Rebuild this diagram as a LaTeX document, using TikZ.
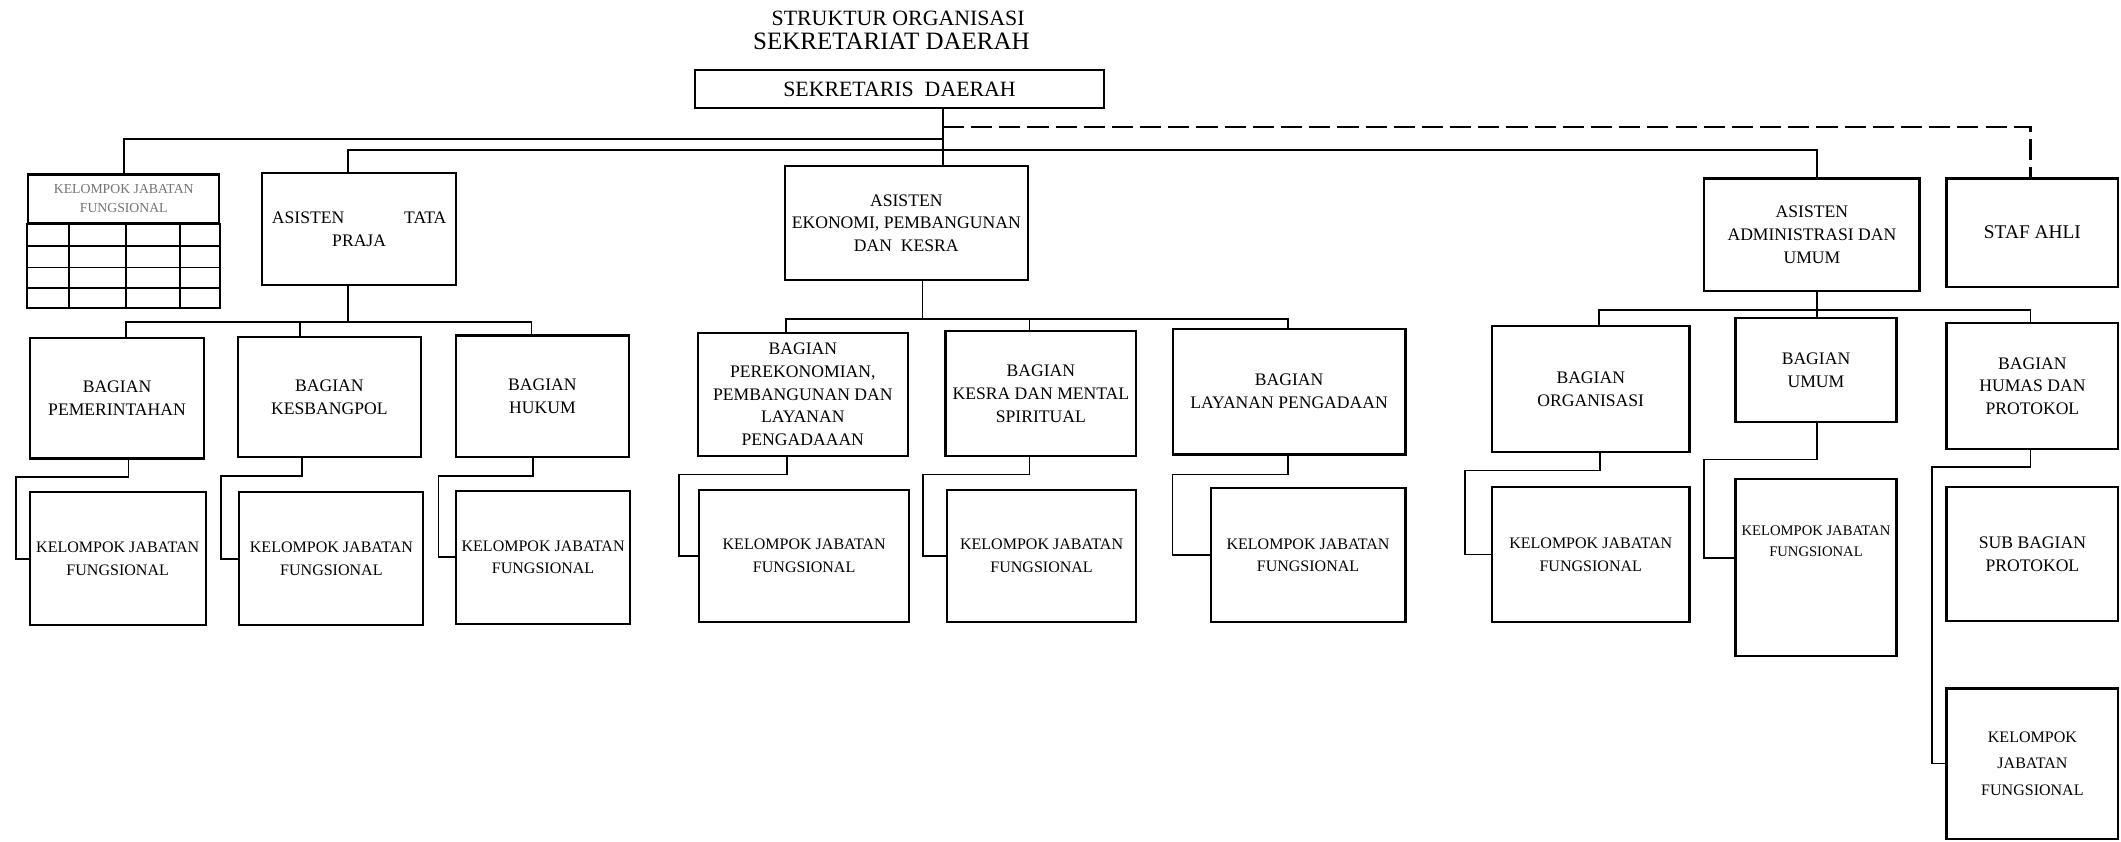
\documentclass[tikz,border=0pt]{standalone}
\usepackage{fontspec}
\setmainfont{Liberation Serif}
\usetikzlibrary{calc}

\begin{document}
\begin{tikzpicture}[x=0.027cm, y=-0.027cm, line width=1pt,
kotak/.style={draw, line width=1.2pt, align=center, inner sep=2pt, font=\fontsize{10}{13}\selectfont},
kjf/.style={kotak, font=\fontsize{9.1}{13}\selectfont},
wh/.style 2 args={minimum width=#1*0.027cm, minimum height=#2*0.027cm},
judul/.style={inner sep=0pt}]
\useasboundingbox (0,0) rectangle (1568,622);

% judul
\node[judul, font=\fontsize{12.4}{14}\selectfont] (judul1) at (664,13.5) {STRUKTUR~ORGANISASI};
\node[judul, font=\fontsize{14.2}{16}\selectfont] (judul2) at (659,30.5) {SEKRETARIAT DAERAH};

% pimpinan dan asisten
\node[kotak, wh={302}{28}, font=\fontsize{12.4}{14}\selectfont] (sekda) at (665,66) {SEKRETARIS~~DAERAH};
\node[kotak, wh={141}{36}, font=\fontsize{7.8}{10.7}\selectfont, text=black!55] (kjft) at (91.5,147) {KELOMPOK JABATAN\\FUNGSIONAL};
\node[kotak, wh={143}{83}] (praja) at (265.5,169.5) {\hbox to 3.48cm{ASISTEN\hfil TATA}\\PRAJA};
\node[kotak, wh={180}{84}] (ekon) at (670,165) {ASISTEN\\EKONOMI, PEMBANGUNAN\\DAN~~KESRA};
\node[kotak, wh={159}{83}] (admin) at (1339.5,173.5) {ASISTEN\\ADMINISTRASI DAN\\UMUM};
\node[kotak, wh={127}{80}, font=\fontsize{11}{13}\selectfont] (stafahli) at (1502.5,172) {STAF AHLI};

% tabel kelompok jabatan fungsional
\draw[line width=1.1pt] (kjft.south west) rectangle ($(kjft.south east)+(0,62)$);
\foreach \r in {16,32,47}
  \draw[line width=1.1pt] ($(kjft.south west)+(0,\r)$) -- ($(kjft.south east)+(0,\r)$);
\foreach \c in {31,73,113}
  \draw[line width=1.1pt] ($(kjft.south west)+(\c,0)$) -- ++(0,62);

% bagian
\node[kotak, wh={129}{89}] (bpem) at (86.5,294.5) {BAGIAN\\PEMERINTAHAN};
\node[kotak, wh={135}{89}] (bkes) at (243.5,293.5) {BAGIAN\\KESBANGPOL};
\node[kotak, wh={128}{90}] (bhuk) at (401,293) {BAGIAN\\HUKUM};
\node[kotak, wh={155}{91}] (bper) at (593.5,291.5) {BAGIAN\\PEREKONOMIAN,\\PEMBANGUNAN DAN\\LAYANAN\\PENGADAAAN};
\node[kotak, wh={141}{92}] (bkesra) at (769.5,291) {BAGIAN\\KESRA DAN MENTAL\\SPIRITUAL};
\node[kotak, wh={172}{93}] (blay) at (953,289.5) {BAGIAN\\LAYANAN PENGADAAN};
\node[kotak, wh={146}{93}] (borg) at (1176,287.5) {BAGIAN\\ORGANISASI};
\node[kotak, wh={119}{77}] (bumum) at (1342.5,273.5) {BAGIAN\\UMUM};
\node[kotak, wh={127}{93}] (bhumas) at (1502.5,285.5) {BAGIAN\\HUMAS DAN\\PROTOKOL};

% kelompok jabatan fungsional
\node[kjf, wh={130}{98}] (kpem) at (87,413) {KELOMPOK JABATAN\\FUNGSIONAL};
\node[kjf, wh={136}{98}] (kkes) at (245,413) {KELOMPOK JABATAN\\FUNGSIONAL};
\node[kjf, wh={129}{98}] (khuk) at (401.5,412) {KELOMPOK JABATAN\\FUNGSIONAL};
\node[kjf, wh={155}{98}] (kper) at (594.5,411) {KELOMPOK JABATAN\\FUNGSIONAL};
\node[kjf, wh={140}{98}] (kkesra) at (770,411) {KELOMPOK JABATAN\\FUNGSIONAL};
\node[kjf, wh={144}{99}] (klay) at (967,410.5) {KELOMPOK JABATAN\\FUNGSIONAL};
\node[kjf, wh={146}{100}] (korg) at (1176,410) {KELOMPOK JABATAN\\FUNGSIONAL};
\node[kjf, wh={119}{131}, font=\fontsize{8.3}{12}\selectfont] (kumum) at (1342.5,419.5) {KELOMPOK JABATAN\\FUNGSIONAL\\[2.2em]};
\node[kotak, wh={127}{99}] (subprot) at (1502.5,409.5) {SUB BAGIAN\\PROTOKOL};
\node[kjf, wh={127}{111}, font=\fontsize{9.1}{15}\selectfont] (khumas) at (1502.5,564.5) {KELOMPOK\\JABATAN\\FUNGSIONAL};

% garis dari sekretaris daerah
\coordinate (jt) at (697,94);
\coordinate (j1) at (697,103);
\coordinate (j2) at (697,111);
\draw (sekda.south -| jt) -- (ekon.north -| jt);
\draw (j1) -| (kjft.north);
\draw ($(praja.north)+(-8.5,0)$) |- (j2) -| ($(admin.north)+(3.5,0)$);
\draw[line width=1.5pt, dash pattern=on 12pt off 4pt] (jt) -| ($(stafahli.north)+(-1.5,0)$);

% garis ke bagian
\coordinate (busA) at (257,238);
\draw ($(praja.south)+(-8.5,0)$) -- (busA);
\draw (busA) -| ($(bpem.north)+(6.5,0)$);
\draw (busA) -| ($(bkes.north)+(-21.5,0)$);
\draw (busA) -| ($(bhuk.north)+(-8,0)$);

\coordinate (busB) at (682,236);
\draw (ekon.south -| busB) -- (busB);
\draw (busB) -| ($(bper.north)+(-12.5,0)$);
\draw (busB) -| ($(bkesra.north)+(-8.5,0)$);
\draw (busB) -| ($(blay.north)+(-1,0)$);

\coordinate (busC) at (1343,229);
\draw (admin.south -| busC) -- (bumum.north -| busC);
\draw (busC) -| ($(borg.north)+(6,0)$);
\draw (busC) -| ($(bhumas.north)+(-1.5,0)$);

% garis ke kelompok jabatan fungsional
\draw ($(bpem.south)+(8.5,0)$) -- ++(0,13) -| ($(kpem.west)+(-9.4,0)$) -- (kpem.west);
\draw ($(bkes.south)+(-20.5,0)$) -- ++(0,13) -| ($(kkes.west)+(-13,0)$) -- (kkes.west);
\draw ($(bhuk.south)+(-7,0)$) -- ++(0,13) -| ($(khuk.west)+(-12,0)$) -- (khuk.west);
\draw ($(bper.south)+(-11.5,0)$) -- ++(0,13) -| ($(kper.west)+(-14,0)$) -- (kper.west);
\draw ($(bkesra.south)+(-8.5,0)$) -- ++(0,13) -| ($(kkesra.west)+(-17,0)$) -- (kkesra.west);
\draw ($(blay.south)+(-1,0)$) -- ++(0,14) -| ($(klay.west)+(-27.5,0)$) -- (klay.west);
\draw ($(borg.south)+(7,0)$) -- ++(0,13) -| ($(korg.west)+(-19,0)$) -- (korg.west);
\draw ($(bumum.south)+(0.5,0)$) -- ++(0,27) -| ($(kumum.west)+(-22.5,-7)$) -- ($(kumum.west)+(0,-7)$);
\draw ($(bhumas.south)+(-1.5,0)$) -- ++(0,12.5) -| ($(khumas.west)+(-10,0)$) -- (khumas.west);
\end{tikzpicture}
\end{document}
